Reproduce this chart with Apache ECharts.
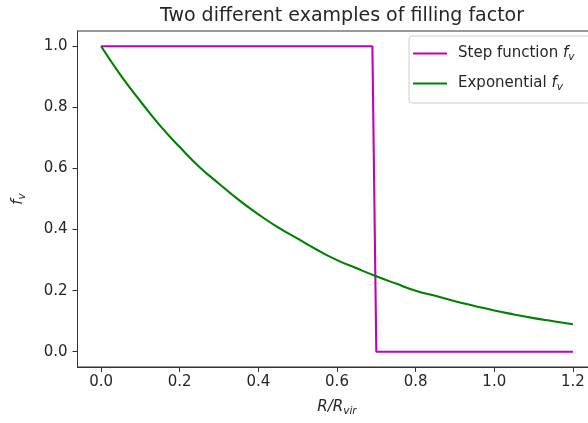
<!DOCTYPE html>
<html>
<head>
<meta charset="utf-8">
<script src="https://cdn.jsdelivr.net/npm/echarts@6/dist/echarts.min.js"></script>
<style>
  html, body { margin: 0; padding: 0; background: #fff; overflow: hidden; }
  #chart { width: 588px; height: 423px; }
</style>
</head>
<body>
<div id="chart"></div>
<script>
// Tick positions on both axes
const xTicks = [0, 0.2, 0.4, 0.6, 0.8, 1.0, 1.2];
const yTicks = [0, 0.2, 0.4, 0.6, 0.8, 1.0];

// Step-function filling factor: 1 inside ~0.7 R_vir, 0 outside
const stepR = [0, 0.69, 0.70, 1.2];
const stepF = [1.0, 1.0, 0.0, 0.0];

// Exponentially declining filling factor
const expR = [0, 0.05, 0.1, 0.15, 0.2, 0.25, 0.3, 0.35, 0.4, 0.45, 0.5, 0.55, 0.6,
              0.65, 0.7, 0.75, 0.8, 0.85, 0.9, 0.95, 1.0, 1.05, 1.1, 1.15, 1.2];
const expF = [1.0, 0.905, 0.82, 0.74, 0.67, 0.605, 0.55, 0.497, 0.45, 0.407, 0.37, 0.333, 0.30,
              0.273, 0.247, 0.223, 0.20, 0.183, 0.165, 0.15, 0.135, 0.122, 0.11, 0.10, 0.09];

const seriesNames = ['Step function', 'Exponential'];
const seriesColors = ['#bf00bf', '#008000'];

const FONT = 'DejaVu Sans';
const INK = '#262626';
const SPINE = '#333333';

const zip = (xs, ys) => xs.map((x, i) => [x, ys[i]]);

const chart = echarts.init(document.getElementById('chart'), null, { renderer: 'canvas' });

const subRich = {
  i: { fontFamily: FONT, fontStyle: 'italic', fontSize: 15, color: INK },
  s: { fontFamily: FONT, fontStyle: 'italic', fontSize: 10.5, color: INK, padding: [8, 0, 0, 0] },
  n: { fontFamily: FONT, fontSize: 15, color: INK }
};

chart.setOption({
  backgroundColor: '#ffffff',
  animation: false,
  title: {
    text: 'Two different examples of filling factor',
    left: 337,
    top: 2,
    textAlign: 'center',
    textStyle: { fontFamily: FONT, fontSize: 19, fontWeight: 'normal', color: INK }
  },
  grid: {
    left: 77.5, top: 31, width: 519, height: 336,
    outerBoundsMode: 'none',
    show: true, borderColor: SPINE, borderWidth: 1, backgroundColor: 'transparent',
    containLabel: false
  },
  legend: {
    orient: 'vertical',
    left: 409,
    top: 36,
    padding: [10, 16, 10, 4],
    itemGap: 13,
    itemWidth: 34,
    itemHeight: 2,
    icon: 'rect',
    borderColor: '#cccccc',
    borderWidth: 1,
    borderRadius: 3,
    backgroundColor: 'rgba(255,255,255,0.8)',
    data: seriesNames.map((n, i) => ({ name: n, itemStyle: { color: seriesColors[i] } })),
    formatter: name => '{n|' + name + ' }{i|f}{s|v}',
    textStyle: { fontFamily: FONT, fontSize: 15, color: INK, padding: [0, 0, 0, 6], rich: subRich }
  },
  xAxis: {
    type: 'value',
    min: -0.06,
    max: 1.26,
    name: '{i|R/R}{s|vir}',
    nameLocation: 'middle',
    nameGap: 31,
    nameTextStyle: { rich: subRich },
    axisLine: { show: true, onZero: false, lineStyle: { color: SPINE, width: 1 } },
    splitLine: { show: false },
    axisTick: { show: true, inside: false, length: 5, customValues: xTicks, lineStyle: { color: SPINE, width: 1 } },
    axisLabel: {
      customValues: xTicks, margin: 8,
      formatter: v => v.toFixed(1),
      fontFamily: FONT, fontSize: 15, color: INK
    }
  },
  yAxis: {
    type: 'value',
    min: -0.05,
    max: 1.05,
    name: '{i|f}{s|v}',
    nameLocation: 'middle',
    nameRotate: 90,
    nameGap: 50,
    nameTextStyle: { rich: subRich },
    axisLine: { show: true, onZero: false, lineStyle: { color: SPINE, width: 1 } },
    splitLine: { show: false },
    axisTick: { show: true, inside: false, length: 5, customValues: yTicks, lineStyle: { color: SPINE, width: 1 } },
    axisLabel: {
      customValues: yTicks, margin: 10,
      formatter: v => v.toFixed(1),
      fontFamily: FONT, fontSize: 15, color: INK
    }
  },
  series: [
    {
      name: seriesNames[0],
      type: 'line',
      data: zip(stepR, stepF),
      symbol: 'none',
      lineStyle: { color: seriesColors[0], width: 2.1 },
      itemStyle: { color: seriesColors[0] }
    },
    {
      name: seriesNames[1],
      type: 'line',
      data: zip(expR, expF),
      symbol: 'none',
      smooth: true,
      lineStyle: { color: seriesColors[1], width: 2.1 },
      itemStyle: { color: seriesColors[1] }
    }
  ]
});
</script>
</body>
</html>
